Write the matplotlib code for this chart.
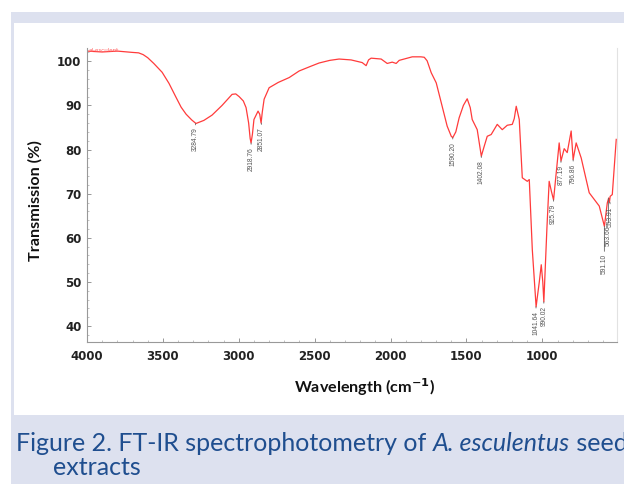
import matplotlib
matplotlib.use("Agg")
import matplotlib.pyplot as plt
from matplotlib.patches import Rectangle
from matplotlib.ticker import MultipleLocator

# ---------------- data ----------------
wavenumber = [4000, 3900, 3800, 3700, 3660, 3630, 3600, 3560, 3505, 3460, 3413, 3380, 3347, 3310, 3282,
              3230, 3176, 3110, 3044, 3020, 2998, 2970, 2952, 2935, 2925, 2919, 2910, 2900, 2873, 2862,
              2853, 2845, 2833, 2800, 2740, 2668, 2602, 2530, 2471, 2400, 2339, 2260, 2187, 2161, 2145,
              2128, 2062, 2022, 1989, 1963, 1943, 1900, 1857, 1800, 1778, 1759, 1732, 1699, 1660, 1627,
              1600, 1590, 1570, 1548, 1520, 1495, 1475, 1462, 1429, 1402, 1385, 1363, 1337, 1297,
              1264, 1231, 1198, 1185, 1172, 1152, 1132, 1099, 1086, 1066, 1041, 1020, 1007, 997,
              990, 970, 955, 940, 926, 889, 877, 856, 836, 810, 797, 777, 744, 691, 625, 591, 572,
              563, 558, 553, 539, 513]
transmission = [102.3, 102.1, 102.3, 102.0, 101.9, 101.5, 100.8, 99.5, 97.5, 95.0, 91.8, 89.6, 88.0, 86.7, 85.9,
                86.6, 87.8, 90.0, 92.5, 92.6, 92.0, 91.0, 89.5, 86.0, 82.5, 81.5, 83.5, 86.8, 88.7, 88.0,
                86.0, 88.5, 91.4, 94.0, 95.2, 96.3, 97.8, 98.8, 99.6, 100.2, 100.5, 100.3, 99.7, 99.0, 100.3,
                100.7, 100.5, 99.5, 99.8, 99.5, 100.2, 100.6, 101.0, 101.0, 100.9, 100.1, 97.4, 95.1, 89.8, 85.3,
                83.0, 82.7, 84.0, 87.2, 90.0, 91.5, 89.5, 86.8, 84.5, 78.5, 80.5, 83.0, 83.4, 85.7,
                84.5, 85.5, 85.7, 87.0, 89.8, 86.8, 73.6, 72.8, 73.2, 57.3, 44.4, 50.0, 53.9, 50.0,
                45.5, 62.0, 72.8, 70.5, 68.6, 81.5, 77.4, 80.2, 79.3, 84.2, 77.7, 81.5, 78.1, 70.2, 67.2, 62.6, 67.9,
                69.0, 68.0, 69.4, 69.8, 82.3]

peak_labels = ["3284.79", "2918.76", "2851.07", "1590.20", "1402.08", "1041.64", "990.02",
               "925.79", "877.19", "796.86", "591.10", "563.66", "553.91"]
peak_values = [85.9, 81.5, 86.0, 82.7, 78.5, 44.4, 45.5, 68.6, 77.4, 77.7, 62.6, 69.0, 68.0]
peak_leader = [3, 3, 3, 3, 3, 3, 3, 3, 3, 3, 20, 20, 3]

x_ticks = [4000, 3500, 3000, 2500, 2000, 1500, 1000]
y_ticks = [40, 50, 60, 70, 80, 90, 100]

caption_line1 = ["Figure 2. FT-IR spectrophotometry of ", "A. esculentus", " seed"]
caption_line2 = "extracts"

# ---------------- figure ----------------
W, H = 624, 484
fig = plt.figure(figsize=(W / 100, H / 100), dpi=100)
fig.patch.set_facecolor("white")

band = "#dde1ef"
def rect(x0, y0, x1, y1):
    fig.patches.append(Rectangle((x0 / W, 1 - y1 / H), (x1 - x0) / W, (y1 - y0) / H,
                                 transform=fig.transFigure, facecolor=band, edgecolor="none", zorder=0))
rect(11, 12, W, 23)
rect(11, 12, 14, H)
rect(11, 415, W, H)

ax = fig.add_axes([87 / W, 1 - 342 / H, (617 - 87) / W, (342 - 48) / H])
ax.set_facecolor("none")
ax.plot(wavenumber, transmission, color="#ff3b3b", lw=0.9)
ax.set_xlim(4000, 508)
ax.set_ylim(36.4, 103)

for lab, val, lead in zip(peak_labels, peak_values, peak_leader):
    w = float(lab)
    ax.annotate(lab, xy=(w, val), xytext=(0, -lead), textcoords="offset points",
                rotation=90, ha="center", va="top", fontsize=4.8, color="#555555",
                family="Liberation Sans",
                arrowprops=dict(arrowstyle="-", color="#666666", lw=0.6, shrinkA=0, shrinkB=0))

ax.text(4000 - 8, 102.4, "al-esculent", color="#ff6060", fontsize=4, va="center", ha="left")

ax.spines["top"].set_visible(False)
ax.spines["right"].set_color("#e2e2e2")
ax.spines["left"].set_color("#999999")
ax.spines["bottom"].set_color("#999999")
ax.spines["left"].set_linewidth(0.8)
ax.spines["bottom"].set_linewidth(0.8)

ax.set_xticks(x_ticks)
ax.set_yticks(y_ticks)
ax.xaxis.set_minor_locator(MultipleLocator(100))
ax.yaxis.set_minor_locator(MultipleLocator(2))
ax.tick_params(axis="both", which="major", direction="in", length=3, width=0.6, color="#888888",
               labelsize=8.5, labelcolor="#222222")
ax.tick_params(axis="x", which="major", pad=6)
ax.tick_params(axis="y", which="major", pad=4)
ax.tick_params(axis="both", which="minor", direction="in", length=1.5, width=0.5, color="#aaaaaa")
ax.tick_params(axis="y", right=False)
for t in ax.get_xticklabels() + ax.get_yticklabels():
    t.set_fontweight("bold")
    t.set_family("DejaVu Sans")

fig.text(35 / W, 1 - 201 / H, "Transmission (%)", rotation=90, ha="center", va="center",
         fontsize=11.6, fontweight="bold", family="Lato", color="#111111")
fig.text(364 / W, 1 - 387 / H, r"Wavelength (cm$^{\mathbf{-1}}$)", ha="center", va="center",
         fontsize=11.6, fontweight="bold", family="Lato", color="#111111")

# caption
cap_color = "#1f4e8f"
fig.canvas.draw()
r = fig.canvas.get_renderer()
x = 16
base1 = 1 - 451 / H
for i, piece in enumerate(caption_line1):
    t = fig.text(x / W, base1, piece, fontsize=18, family="Lato", color=cap_color,
                 style="italic" if i == 1 else "normal", va="baseline", ha="left")
    bb = t.get_window_extent(renderer=r)
    x += bb.width
fig.text(53 / W, 1 - 475 / H, caption_line2, fontsize=18, family="Lato", color=cap_color,
         va="baseline", ha="left")

fig.savefig("out.png", dpi=100, facecolor="white")
